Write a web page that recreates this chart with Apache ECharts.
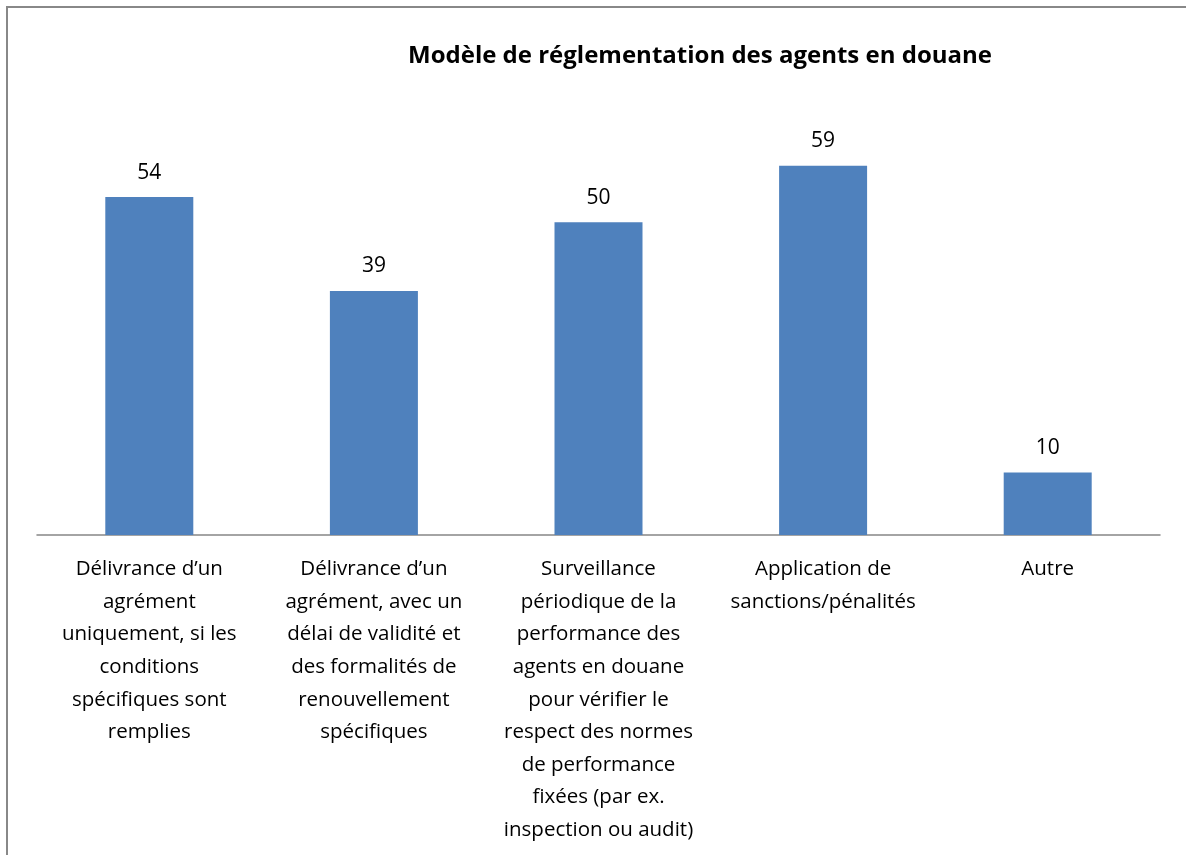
<!DOCTYPE html>
<html>
<head>
<meta charset="utf-8">
<script src="https://cdn.jsdelivr.net/npm/echarts@6/dist/echarts.min.js"></script>
<style>
html, body { margin: 0; padding: 0; background: #fff; overflow: hidden; }
#frame {
  position: absolute; left: 6px; top: 6px;
  width: 1300px; height: 1000px;
  border: 2px solid #888;
}
#chart { position: absolute; left: 0; top: 0; width: 1186px; height: 855px; }
</style>
</head>
<body>
<div id="frame"></div>
<div id="chart"></div>
<script>
const categories = [
  'Délivrance d\u2019un\nagrément\nuniquement, si les\nconditions\nspécifiques sont\nremplies',
  'Délivrance d\u2019un\nagrément, avec un\ndélai de validité et\ndes formalités de\nrenouvellement\nspécifiques',
  'Surveillance\npériodique de la\nperformance des\nagents en douane\npour vérifier le\nrespect des normes\nde performance\nfixées (par ex.\ninspection ou audit)',
  'Application de\nsanctions/pénalités',
  'Autre'
];
const values = [54, 39, 50, 59, 10];

const chart = echarts.init(document.getElementById('chart'));
const fontFamily = '"Open Sans", "Noto Sans", sans-serif';

chart.setOption({
  animation: false,
  title: {
    text: 'Modèle de réglementation des agents en douane',
    left: 695,
    textAlign: 'center',
    top: 39,
    textStyle: { fontFamily: fontFamily, fontSize: 24, fontWeight: 'bold', color: '#000' }
  },
  grid: { left: 37, right: 26, top: 97, bottom: 320, containLabel: false },
  xAxis: {
    type: 'category',
    data: categories,
    axisLine: { lineStyle: { color: '#868686', width: 1.5 } },
    axisTick: { show: false },
    axisLabel: {
      interval: 0,
      margin: 18,
      fontFamily: fontFamily,
      fontSize: 20.5,
      lineHeight: 32.6,
      color: '#000',
      align: 'center'
    }
  },
  yAxis: {
    type: 'value',
    min: 0,
    max: 70,
    show: false
  },
  series: [{
    type: 'bar',
    data: values,
    barWidth: 88,
    itemStyle: { color: '#4F81BD' },
    label: {
      show: true,
      position: 'top',
      distance: 14,
      fontFamily: fontFamily,
      fontSize: 21,
      color: '#000'
    }
  }]
});
</script>
</body>
</html>
